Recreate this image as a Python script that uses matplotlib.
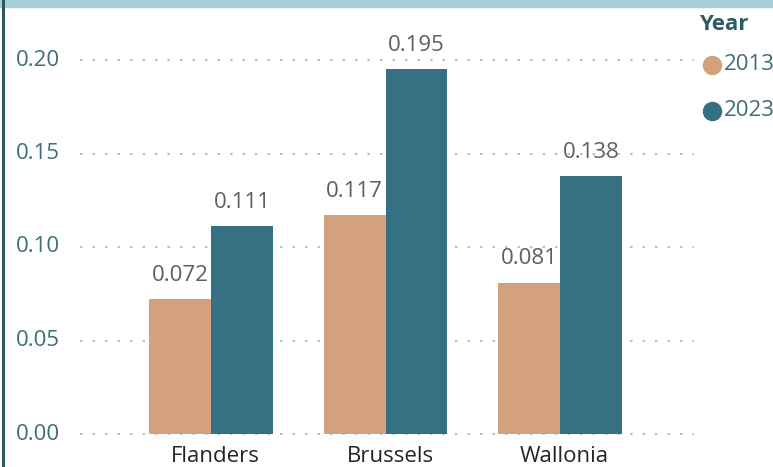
import matplotlib
matplotlib.use("Agg")
import matplotlib.pyplot as plt
from matplotlib.patches import Rectangle
from matplotlib.lines import Line2D
import numpy as np

categories = ["Flanders", "Brussels", "Wallonia"]
years = ["2013", "2023"]
values_2013 = [0.072, 0.117, 0.081]
values_2023 = [0.111, 0.195, 0.138]
yticks = [0.00, 0.05, 0.10, 0.15, 0.20]

c2013 = "#D4A17F"
c2023 = "#367183"
tick_col = "#3E6E75"
grid_col = "#9FCBD3"

plt.rcParams['font.family'] = ['Open Sans', 'DejaVu Sans']

W, H = 773, 467
fig = plt.figure(figsize=(W/100, H/100), dpi=100)
fig.patch.set_facecolor("white")

# axes: x from 80 to 700 px, y: 0 at 434, 0.20 at 60
left, right = 80, 700
y0pix, y20pix = 434, 60
per = (y0pix - y20pix) / 0.20
ytop_val = y0pix / per
ybot_val = -(H - y0pix) / per
ax = fig.add_axes([left/W, 0, (right-left)/W, 1])
ax.set_ylim(ybot_val, ytop_val)

x = np.arange(len(categories))
bw = 0.355
ax.bar(x - bw/2, values_2013, bw, color=c2013, zorder=3)
ax.bar(x + bw/2, values_2023, bw, color=c2023, zorder=3)
xl, xr = -0.751, 2.802
ax.set_xlim(xl, xr)

for xi, v in zip(x - bw/2, values_2013):
    ax.text(xi, v + 0.007, f"{v:.3f}", ha="center", va="bottom", fontsize=16, color="#605E5C", zorder=4)
for xi, v in zip(x + bw/2, values_2023):
    ax.text(xi, v + 0.007, f"{v:.3f}", ha="center", va="bottom", fontsize=16, color="#605E5C", zorder=4)

for t in yticks:
    ax.plot([xl, 2.77], [t, t], ls=(0, (1.2, 4.8)), color=grid_col, lw=1.5, zorder=1, clip_on=False)
    fig.text(60/W, 1 - (y0pix - t*per)/H, f"{t:.2f}", ha="right", va="center", fontsize=16, color=tick_col)

for xi, c in zip(x, categories):
    ax.text(xi + 0.026, -0.0065, c, ha="center", va="top", fontsize=16, color="#252423")

ax.axis("off")

# top band and left border
fig.add_artist(Rectangle((0, 1 - 7/H), 1, 7/H, transform=fig.transFigure, color="#A6D0D8", zorder=10))
fig.add_artist(Line2D([2.5/W, 2.5/W], [0, 1], transform=fig.transFigure, color="#2F5A62", lw=2.2, zorder=11))

# legend
fig.text(699/W, 1 - 25/H, "Year", ha="left", va="center", fontsize=16, fontweight="bold", color="#2B5B63")
for yy, col, lab in [(65, c2013, years[0]), (111, c2023, years[1])]:
    fig.add_artist(Line2D([712/W], [1 - yy/H], transform=fig.transFigure, marker="o", markersize=13,
                          color=col, linestyle="none"))
    fig.text(724/W, 1 - yy/H, lab, ha="left", va="center", fontsize=16, color=tick_col)

fig.savefig("out.png", dpi=100)
